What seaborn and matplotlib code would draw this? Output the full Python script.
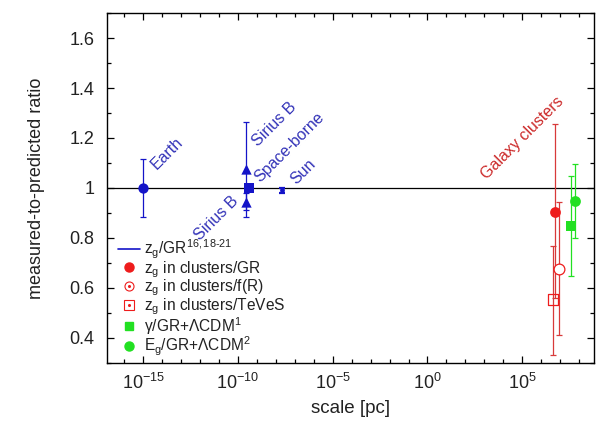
import numpy as np
import pandas as pd
import matplotlib
matplotlib.use("Agg")
import matplotlib.pyplot as plt
import matplotlib.ticker as mticker
from matplotlib.lines import Line2D
import seaborn as sns

# Dane: log10 skali [pc], stosunek zmierzony/przewidywany, bledy
solar_names = ["Earth", "Sirius B", "Sirius B", "Space-borne", "Sun"]
solar_logx = [-15.0, -9.6, -9.6, -9.43, -7.65]
solar_ratio = [1.0, 1.075, 0.945, 1.0, 0.99]
solar_err = [0.115, 0.19, 0.035, 0.012, 0.01]
solar_marker = ["o", "^", "^", "s", "."]

cluster_labels = ["GR", "f(R)", "TeVeS"]
cluster_logx = [6.75, 6.92, 6.62]
cluster_ratio = [0.905, 0.677, 0.553]
cluster_err_lo = [0.345, 0.267, 0.223]
cluster_err_hi = [0.35, 0.266, 0.215]

lcdm_labels = ["gamma", "Eg"]
lcdm_logx = [7.6, 7.8]
lcdm_ratio = [0.848, 0.946]
lcdm_err = [0.2, 0.148]

BLUE = "#1414c8"
BLUE_TXT = "#3333b8"
RED = "#ee1c1c"
RED_BAR = "#d83a3a"
RED_TXT = "#cc2a2a"
GREEN = "#22e022"
INK = "#222222"

sns.set_theme(style="ticks")
plt.rcParams["font.family"] = ["Liberation Sans", "DejaVu Sans"]
plt.rcParams["mathtext.fontset"] = "custom"
plt.rcParams["mathtext.rm"] = "Liberation Sans"
plt.rcParams["mathtext.it"] = "Liberation Sans"
plt.rcParams["mathtext.default"] = "regular"

fig = plt.figure(figsize=(5.99, 4.21), dpi=100)
ax = fig.add_axes([0.179, 0.138, 0.813, 0.831])

solar = pd.DataFrame({"name": solar_names, "x": 10.0 ** np.array(solar_logx),
                      "y": solar_ratio, "err": solar_err, "m": solar_marker})
clusters = pd.DataFrame({"lab": cluster_labels, "x": 10.0 ** np.array(cluster_logx),
                         "y": cluster_ratio, "lo": cluster_err_lo, "hi": cluster_err_hi})
lcdm = pd.DataFrame({"lab": lcdm_labels, "x": 10.0 ** np.array(lcdm_logx),
                     "y": lcdm_ratio, "err": lcdm_err})

ax.axhline(1.0, color="black", lw=0.9, zorder=1)

# slupki bledow
ax.errorbar(solar.x[:4], solar.y[:4], yerr=solar.err[:4], fmt="none", ecolor=BLUE,
            elinewidth=0.9, capsize=2.5, capthick=0.9, zorder=2)
ax.errorbar(solar.x[4:], solar.y[4:], yerr=solar.err[4:], fmt="none", ecolor=BLUE,
            elinewidth=1.5, capsize=2.2, capthick=1.6, zorder=2)
ax.errorbar(clusters.x, clusters.y, yerr=[clusters.lo, clusters.hi], fmt="none",
            ecolor=RED_BAR, elinewidth=0.9, capsize=2.5, capthick=0.9, zorder=2)
ax.errorbar(lcdm.x, lcdm.y, yerr=lcdm.err, fmt="none", ecolor=GREEN,
            elinewidth=0.9, capsize=2.5, capthick=0.9, zorder=2)

# punkty
for m, s in [("o", 55), ("^", 55), ("s", 55), (".", 12)]:
    sub = solar[solar.m == m]
    sns.scatterplot(data=sub, x="x", y="y", ax=ax, marker=m if m != "." else "o", s=s,
                    color=BLUE, edgecolor=BLUE, linewidth=0, zorder=3)
sns.scatterplot(x=clusters.x[:1], y=clusters.y[:1], ax=ax, marker="o", s=60,
                color=RED, edgecolor=RED, linewidth=0, zorder=3)
ax.scatter(clusters.x[1:2], clusters.y[1:2], marker="o", s=60, facecolors="white",
           edgecolors=RED, linewidths=0.9, zorder=3)
ax.scatter(clusters.x[2:3], clusters.y[2:3], marker="s", s=60, facecolors="none",
           edgecolors=RED, linewidths=0.9, zorder=3)
sns.scatterplot(x=lcdm.x[:1], y=lcdm.y[:1], ax=ax, marker="s", s=50,
                color=GREEN, edgecolor=GREEN, linewidth=0, zorder=3)
sns.scatterplot(x=lcdm.x[1:], y=lcdm.y[1:], ax=ax, marker="o", s=60,
                color=GREEN, edgecolor=GREEN, linewidth=0, zorder=3)

# podpisy
fs_txt = 11.5
txt = dict(rotation=45, rotation_mode="anchor", color=BLUE_TXT, fontsize=fs_txt)
ax.text(10 ** -14.16, 1.065, "Earth", ha="left", va="bottom", **txt)
ax.text(10 ** -8.83, 1.155, "Sirius B", ha="left", va="bottom", **txt)
ax.text(10 ** -8.74, 1.012, "Space-borne", ha="left", va="bottom", **txt)
ax.text(10 ** -6.83, 1.003, "Sun", ha="left", va="bottom", **txt)
ax.text(10 ** -9.84, 0.935, "Sirius B", ha="right", va="bottom", **txt)
ax.text(10 ** 3.25, 1.024, "Galaxy clusters", ha="left", va="bottom",
        rotation=45, rotation_mode="anchor", color=RED_TXT, fontsize=fs_txt)

ax.set_xscale("log")
ax.set_xlim(10 ** -16.9, 10 ** 8.8)
ax.set_ylim(0.3, 1.7)
ax.xaxis.set_major_locator(mticker.FixedLocator([1e-15, 1e-10, 1e-5, 1e0, 1e5]))
ax.xaxis.set_minor_locator(mticker.FixedLocator([10.0 ** k for k in range(-17, 10)]))
ax.xaxis.set_minor_formatter(mticker.NullFormatter())
ax.yaxis.set_major_locator(mticker.MultipleLocator(0.2))
ax.yaxis.set_minor_locator(mticker.MultipleLocator(0.1))
ax.yaxis.set_major_formatter(mticker.FuncFormatter(lambda v, p: "{:g}".format(round(v, 2))))

ax.tick_params(which="both", direction="in", top=True, right=True, labelsize=13,
               color="black", labelcolor=INK)
ax.tick_params(axis="y", pad=9)
ax.tick_params(axis="x", pad=7)
ax.tick_params(which="major", length=5, width=0.9)
ax.tick_params(which="minor", length=3, width=0.9)
for sp in ax.spines.values():
    sp.set_linewidth(1.0)
    sp.set_color("black")

ax.set_xlabel("scale [pc]", fontsize=13.5, color=INK, labelpad=5)
ax.set_ylabel("measured-to-predicted ratio", fontsize=13, color=INK, labelpad=18)

dot = dict(ls="", marker="o", ms=1.2, color=RED)
handles = [
    Line2D([], [], color=BLUE, lw=1.2),
    Line2D([], [], ls="", marker="o", ms=6.5, color=RED, mec=RED),
    (Line2D([], [], ls="", marker="o", ms=6.5, mfc="none", mec=RED, mew=0.8), Line2D([], [], **dot)),
    (Line2D([], [], ls="", marker="s", ms=6.5, mfc="none", mec=RED, mew=0.8), Line2D([], [], **dot)),
    Line2D([], [], ls="", marker="s", ms=6, color=GREEN, mec=GREEN),
    Line2D([], [], ls="", marker="o", ms=6.5, color=GREEN, mec=GREEN),
]
labels = [
    r"z$_g$/GR$^{16,18\text{-}21}$",
    r"z$_g$ in clusters/GR",
    r"z$_g$ in clusters/f(R)",
    r"z$_g$ in clusters/TeVeS",
    r"γ/GR+ΛCDM$^1$",
    r"E$_g$/GR+ΛCDM$^2$",
]
ax.legend(handles, labels, loc="lower left", bbox_to_anchor=(0.012, 0.0), frameon=False,
          fontsize=11.2, labelspacing=-0.12, handlelength=1.4, handletextpad=0.3,
          borderaxespad=0.0, borderpad=0.3, labelcolor=INK)

fig.savefig("out.png", dpi=100)
